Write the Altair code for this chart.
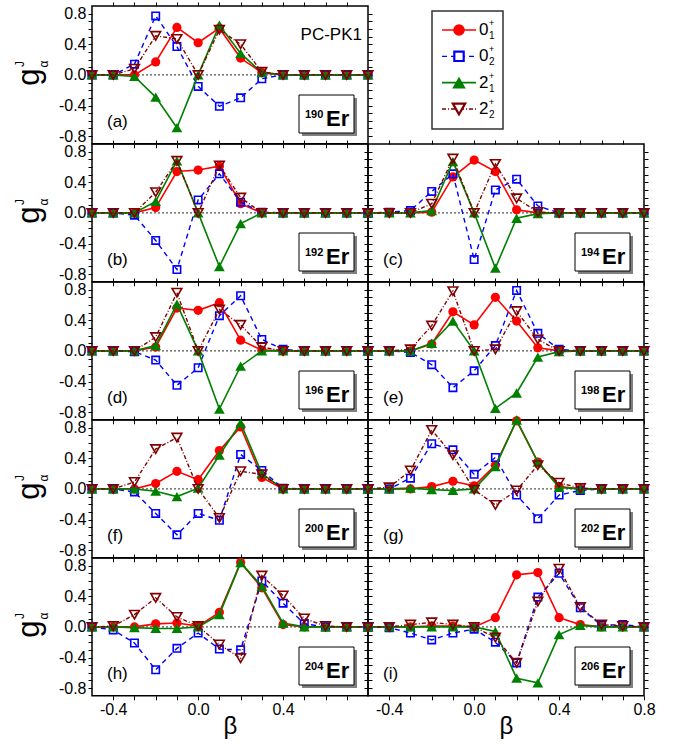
import altair as alt
import pandas as pd

FONT = "Liberation Sans"

BETA = [-0.5, -0.4, -0.3, -0.2, -0.1, 0.0, 0.1, 0.2, 0.3, 0.4, 0.5, 0.6, 0.7, 0.8]
SERIES = ["0_1", "0_2", "2_1", "2_2"]
SERIES_MAIN = ["0", "0", "2", "2"]
SERIES_SUB = ["1", "2", "1", "2"]
LETTERS = ["a", "b", "c", "d", "e", "f", "g", "h", "i"]
MASSES = ["190", "192", "194", "196", "198", "200", "202", "204", "206"]

X_TICKS = [-0.4, -0.3, -0.2, -0.1, 0.0, 0.1, 0.2, 0.3, 0.4, 0.5, 0.6, 0.7]
Y_TICKS = [-0.8, -0.7, -0.6, -0.5, -0.4, -0.3, -0.2, -0.1, 0.0, 0.1, 0.2, 0.3, 0.4, 0.5, 0.6, 0.7, 0.8]

ER190 = {
    "0_1": [0, 0, 0, 0.17, 0.62, 0.42, 0.61, 0.22, 0.03, 0, 0, 0, 0, 0],
    "0_2": [0, 0, 0.14, 0.77, 0.37, -0.15, -0.41, -0.30, -0.05, 0, 0, 0, 0, 0],
    "2_1": [0, 0, -0.02, -0.29, -0.69, 0, 0.65, 0.28, 0.03, 0, 0, 0, 0, 0],
    "2_2": [0, 0, 0.08, 0.51, 0.47, 0, 0.59, 0.40, 0.04, 0, 0, 0, 0, 0],
}
ER192 = {
    "0_1": [0, 0, 0, 0.07, 0.54, 0.56, 0.61, 0.12, 0, 0, 0, 0, 0, 0],
    "0_2": [0, 0, -0.03, -0.36, -0.74, 0.17, 0.51, 0.14, 0.01, 0, 0, 0, 0, 0],
    "2_1": [0, 0, 0, 0.15, 0.68, 0, -0.70, -0.14, 0, 0, 0, 0, 0, 0],
    "2_2": [0, 0, 0, 0.27, 0.68, 0, 0.62, 0.20, 0, 0, 0, 0, 0, 0],
}
ER194 = {
    "0_1": [0, 0, 0, 0.01, 0.47, 0.69, 0.54, 0.04, 0, 0, 0, 0, 0, 0],
    "0_2": [0, 0.01, 0.03, 0.28, 0.51, -0.61, 0.30, 0.44, 0.09, 0, 0, 0, 0, 0],
    "2_1": [0, 0, 0, 0.03, 0.67, 0, -0.72, -0.07, -0.01, 0, 0, 0, 0, 0],
    "2_2": [0, 0, 0, 0.12, 0.71, 0, 0.64, 0.19, 0.01, 0, 0, 0, 0, 0],
}
ER196 = {
    "0_1": [0, 0, 0, 0.05, 0.56, 0.53, 0.63, 0.14, 0.01, 0, 0, 0, 0, 0],
    "0_2": [0, 0, -0.01, -0.12, -0.45, -0.22, 0.46, 0.72, 0.15, 0.02, 0, 0, 0, 0],
    "2_1": [0, 0, 0, 0.07, 0.61, 0, -0.76, -0.20, 0, 0, 0, 0, 0, 0],
    "2_2": [0, 0, 0, 0.18, 0.76, 0, 0.54, 0.34, 0.05, 0, 0, 0, 0, 0],
}
ER198 = {
    "0_1": [0, 0, 0, 0.09, 0.51, 0.34, 0.70, 0.39, 0.04, 0, 0, 0, 0, 0],
    "0_2": [0, 0, -0.02, -0.18, -0.48, -0.26, 0.07, 0.79, 0.23, 0.02, 0, 0, 0, 0],
    "2_1": [0, 0, 0, 0.10, 0.39, 0, -0.75, -0.55, -0.08, -0.01, 0, 0, 0, 0],
    "2_2": [0, 0, 0.02, 0.33, 0.78, 0, 0.02, 0.52, 0.15, 0, 0, 0, 0, 0],
}
ER200 = {
    "0_1": [0, 0, 0, 0.07, 0.23, 0.12, 0.50, 0.81, 0.15, 0, 0, 0, 0, 0],
    "0_2": [0, 0, -0.04, -0.32, -0.60, -0.32, -0.41, 0.45, 0.24, 0.01, 0, 0, 0, 0],
    "2_1": [0, 0, 0, -0.03, -0.10, 0.01, 0.44, 0.86, 0.20, 0, 0, 0, 0, 0],
    "2_2": [0, 0, 0.09, 0.52, 0.67, 0, -0.38, 0.23, 0.19, 0, 0, 0, 0, 0],
}
ER202 = {
    "0_1": [0, 0, 0, 0.03, 0.10, 0.04, 0.31, 0.89, 0.35, 0.03, 0, 0, 0, 0],
    "0_2": [0, 0, 0.14, 0.59, 0.51, 0.19, 0.41, -0.08, -0.39, -0.08, -0.02, 0, 0, 0],
    "2_1": [0, 0, 0.01, -0.01, -0.02, 0, 0.29, 0.90, 0.35, 0.02, 0, 0, 0, 0],
    "2_2": [0, 0.02, 0.24, 0.77, 0.44, -0.01, -0.21, -0.02, 0.31, 0.08, 0.01, 0, 0, 0],
}
ER204 = {
    "0_1": [0, 0, 0, 0.04, 0.05, 0.01, 0.19, 0.84, 0.51, 0.03, 0, 0, 0, 0],
    "0_2": [0, -0.04, -0.21, -0.56, -0.28, -0.08, -0.29, -0.30, 0.60, 0.31, 0.04, 0, 0, 0],
    "2_1": [0, 0, -0.01, -0.02, -0.02, 0, 0.16, 0.84, 0.53, 0.05, 0, 0, 0, 0],
    "2_2": [0, 0.01, 0.16, 0.38, 0.13, 0.01, -0.23, -0.41, 0.67, 0.41, 0.11, 0.01, 0, 0],
}
ER206 = {
    "0_1": [0, 0, 0, 0.01, 0.01, 0, 0.12, 0.68, 0.71, 0.12, 0.03, 0, 0, 0],
    "0_2": [0, -0.01, -0.08, -0.17, -0.08, -0.03, -0.20, -0.47, 0.39, 0.70, 0.25, 0.02, 0.03, 0],
    "2_1": [0, 0, 0, 0, 0, 0, -0.06, -0.67, -0.73, -0.10, 0.02, 0, 0, 0],
    "2_2": [0, 0, 0.03, 0.06, 0.03, 0, -0.14, -0.47, 0.33, 0.76, 0.26, 0.03, 0.01, 0],
}
DATASETS = [ER190, ER192, ER194, ER196, ER198, ER200, ER202, ER204, ER206]

STYLE = {
    "0_1": dict(color="#FF0000", dash=None, shape="circle", filled=True, size=85, width=1.6),
    "0_2": dict(color="#0000FF", dash=[5, 4], shape="square", filled=False, size=55, width=1.4),
    "2_1": dict(color="#008000", dash=None, shape="triangle-up", filled=True, size=115, width=1.6),
    "2_2": dict(color="#800000", dash=[4, 2, 1, 2], shape="triangle-down", filled=False, size=95, width=1.4),
}

W, H = 276, 137.8
ONE = pd.DataFrame({"k": [0]})


def fld(s):
    return "s" + s.replace("_", "")


def lbl_expr(vals):
    parts = []
    for v, t in vals:
        parts.append(f"abs(datum.value-({v}))<0.001?'{t}':")
    return "".join(parts) + "''"


def panel(idx, col, bottom, ytitle):
    data = DATASETS[idx]
    df = pd.DataFrame({"beta": BETA})
    for s in SERIES:
        df[fld(s)] = data[s]
    xs = alt.Scale(domain=[-0.5, 0.8], nice=False, zero=False)
    ys = alt.Scale(domain=[-0.9, 0.9], nice=False, zero=False)

    layers = []
    layers.append(
        alt.Chart(ONE).mark_rule(color="#555555", strokeDash=[2, 2], strokeWidth=1.3)
        .encode(y=alt.YDatum(0, scale=ys, axis=None))
    )
    for s in SERIES:
        st = STYLE[s]
        lk = dict(color=st["color"], strokeWidth=st["width"])
        if st["dash"]:
            lk["strokeDash"] = st["dash"]
        layers.append(
            alt.Chart(df).mark_line(**lk).encode(
                x=alt.X("beta:Q", scale=xs, axis=None),
                y=alt.Y(fld(s) + ":Q", scale=ys, axis=None),
            )
        )
        layers.append(
            alt.Chart(df).mark_point(
                shape=st["shape"], filled=st["filled"], size=st["size"],
                color=st["color"], strokeWidth=1.6, opacity=1,
            ).encode(
                x=alt.X("beta:Q", scale=xs, axis=None),
                y=alt.Y(fld(s) + ":Q", scale=ys, axis=None),
            )
        )
    xl = [(-0.4, "-0.4"), (0, "0.0"), (0.4, "0.4")]
    if col == 1:
        xl.append((0.8, "0.8"))
    yl = [(0.8, "0.8"), (0.4, "0.4"), (0, "0.0"), (-0.4, "-0.4"), (-0.8, "-0.8")]
    xa = alt.Axis(orient="bottom", values=X_TICKS + ([0.8] if col == 1 else []), labels=bottom,
                  labelExpr=lbl_expr(xl),
                  labelOverlap=False, labelFlush=False, title="β" if bottom else "",
                  domain=False, grid=False)
    ya = alt.Axis(orient="left", values=Y_TICKS, labels=(col == 0), labelExpr=lbl_expr(yl),
                  labelOverlap=False, labelFlush=False, title="", domain=False, grid=False)
    layers.append(
        alt.Chart(df).mark_point(opacity=0).encode(
            x=alt.X("beta:Q", scale=xs, axis=xa),
            y=alt.Y("s01:Q", scale=ys, axis=ya),
        )
    )
    layers.append(
        alt.Chart(df).mark_point(opacity=0).encode(
            x=alt.X("beta:Q", scale=xs, axis=alt.Axis(orient="top", values=X_TICKS, labels=False,
                                                      title="", domain=False, grid=False)),
            y=alt.Y("s01:Q", scale=ys, axis=alt.Axis(orient="right", values=Y_TICKS, labels=False,
                                                      title="", domain=False, grid=False)),
        )
    )
    # nucleus box
    layers.append(alt.Chart(ONE).mark_rect(fill="#808080").encode(
        x=alt.value(210), x2=alt.value(265), y=alt.value(92), y2=alt.value(130)))
    layers.append(alt.Chart(ONE).mark_rect(fill="white", stroke="black", strokeWidth=1).encode(
        x=alt.value(207), x2=alt.value(262), y=alt.value(89), y2=alt.value(127)))
    layers.append(alt.Chart(ONE).mark_text(text=MASSES[idx], font=FONT, fontSize=11, fontWeight="bold",
                                           align="left", baseline="alphabetic", color="black").encode(
        x=alt.value(213), y=alt.value(112)))
    layers.append(alt.Chart(ONE).mark_text(text="Er", font=FONT, fontSize=22, fontWeight="bold",
                                           align="left", baseline="alphabetic", color="black").encode(
        x=alt.value(234), y=alt.value(120)))
    layers.append(alt.Chart(ONE).mark_text(text="(" + LETTERS[idx] + ")", font=FONT, fontSize=17,
                                           align="left", baseline="alphabetic", color="black").encode(
        x=alt.value(15), y=alt.value(121)))
    if idx == 0:
        layers.append(alt.Chart(ONE).mark_text(text="PC-PK1", font=FONT, fontSize=17,
                                               align="right", baseline="alphabetic", color="black").encode(
            x=alt.value(270), y=alt.value(34)))
    if ytitle:
        layers.append(alt.Chart(ONE).mark_text(text="g", font=FONT, fontSize=31, angle=270,
                                               align="center", baseline="alphabetic", color="black").encode(
            x=alt.value(-53), y=alt.value(71)))
        layers.append(alt.Chart(ONE).mark_text(text="J", font=FONT, fontSize=12, angle=270,
                                               align="center", baseline="alphabetic", color="black").encode(
            x=alt.value(-68), y=alt.value(58)))
        layers.append(alt.Chart(ONE).mark_text(text="α", font=FONT, fontSize=12, angle=270,
                                               align="center", baseline="alphabetic", color="black").encode(
            x=alt.value(-44), y=alt.value(58)))
    return (alt.layer(*layers)
            .resolve_scale(x="independent", y="independent")
            .properties(width=W, height=H))


def legend_panel():
    leg = pd.DataFrame({"series": SERIES, "main": SERIES_MAIN, "sub": SERIES_SUB})
    ly = alt.Scale(type="point", domain=SERIES, range=[24, 103], padding=0)
    layers = [
        alt.Chart(ONE).mark_rect(fill="white", stroke="#333333", strokeWidth=1.5).encode(
            x=alt.value(64), x2=alt.value(135), y=alt.value(5), y2=alt.value(123))
    ]
    for s in SERIES:
        st = STYLE[s]
        rk = dict(color=st["color"], strokeWidth=st["width"])
        if st["dash"]:
            rk["strokeDash"] = st["dash"]
        layers.append(
            alt.Chart(leg).transform_filter(alt.datum.series == s).mark_rule(**rk).encode(
                x=alt.value(74), x2=alt.value(108), y=alt.Y("series:N", scale=ly, axis=None))
        )
        layers.append(
            alt.Chart(leg).transform_filter(alt.datum.series == s).mark_point(
                shape=st["shape"], filled=st["filled"], size=st["size"] * 1.6,
                color=st["color"], strokeWidth=2.2, opacity=1,
                fill=st["color"] if st["filled"] else "white",
            ).encode(x=alt.value(91), y=alt.Y("series:N", scale=ly, axis=None))
        )
    layers.append(alt.Chart(leg).mark_text(font=FONT, fontSize=17, align="left", baseline="middle",
                                           color="black").encode(
        x=alt.value(111), y=alt.Y("series:N", scale=ly, axis=None), text="main:N"))
    layers.append(alt.Chart(leg).mark_text(font=FONT, fontSize=10, align="left", baseline="middle",
                                           color="black", dy=6).encode(
        x=alt.value(121), y=alt.Y("series:N", scale=ly, axis=None), text="sub:N"))
    layers.append(alt.Chart(leg).mark_text(font=FONT, fontSize=9, align="left", baseline="middle",
                                           color="black", dy=-7, text="+").encode(
        x=alt.value(121), y=alt.Y("series:N", scale=ly, axis=None)))
    return alt.layer(*layers).properties(width=W, height=H,
                                         view=alt.ViewBackground(stroke="transparent"))


cells = [
    panel(0, 0, False, True), legend_panel(),
    panel(1, 0, False, True), panel(2, 1, False, False),
    panel(3, 0, False, False), panel(4, 1, False, False),
    panel(5, 0, False, True), panel(6, 1, False, False),
    panel(7, 0, True, True), panel(8, 1, True, False),
]

chart = (
    alt.concat(*cells, columns=2, spacing=0, bounds="flush")
    .properties(padding={"left": 13, "top": 0, "right": 5, "bottom": 5}, background="white")
    .configure_view(stroke="black", strokeWidth=1.5)
    .configure_axis(labelFont=FONT, labelFontSize=16, labelColor="black", tickColor="black",
                    tickWidth=1, tickSize=4, labelPadding=2, titleFont=FONT, titleFontSize=24,
                    titleFontWeight="normal", titleColor="black", titlePadding=-3)
)

chart.save("out.html", embed_options={"renderer": "svg", "actions": False})
